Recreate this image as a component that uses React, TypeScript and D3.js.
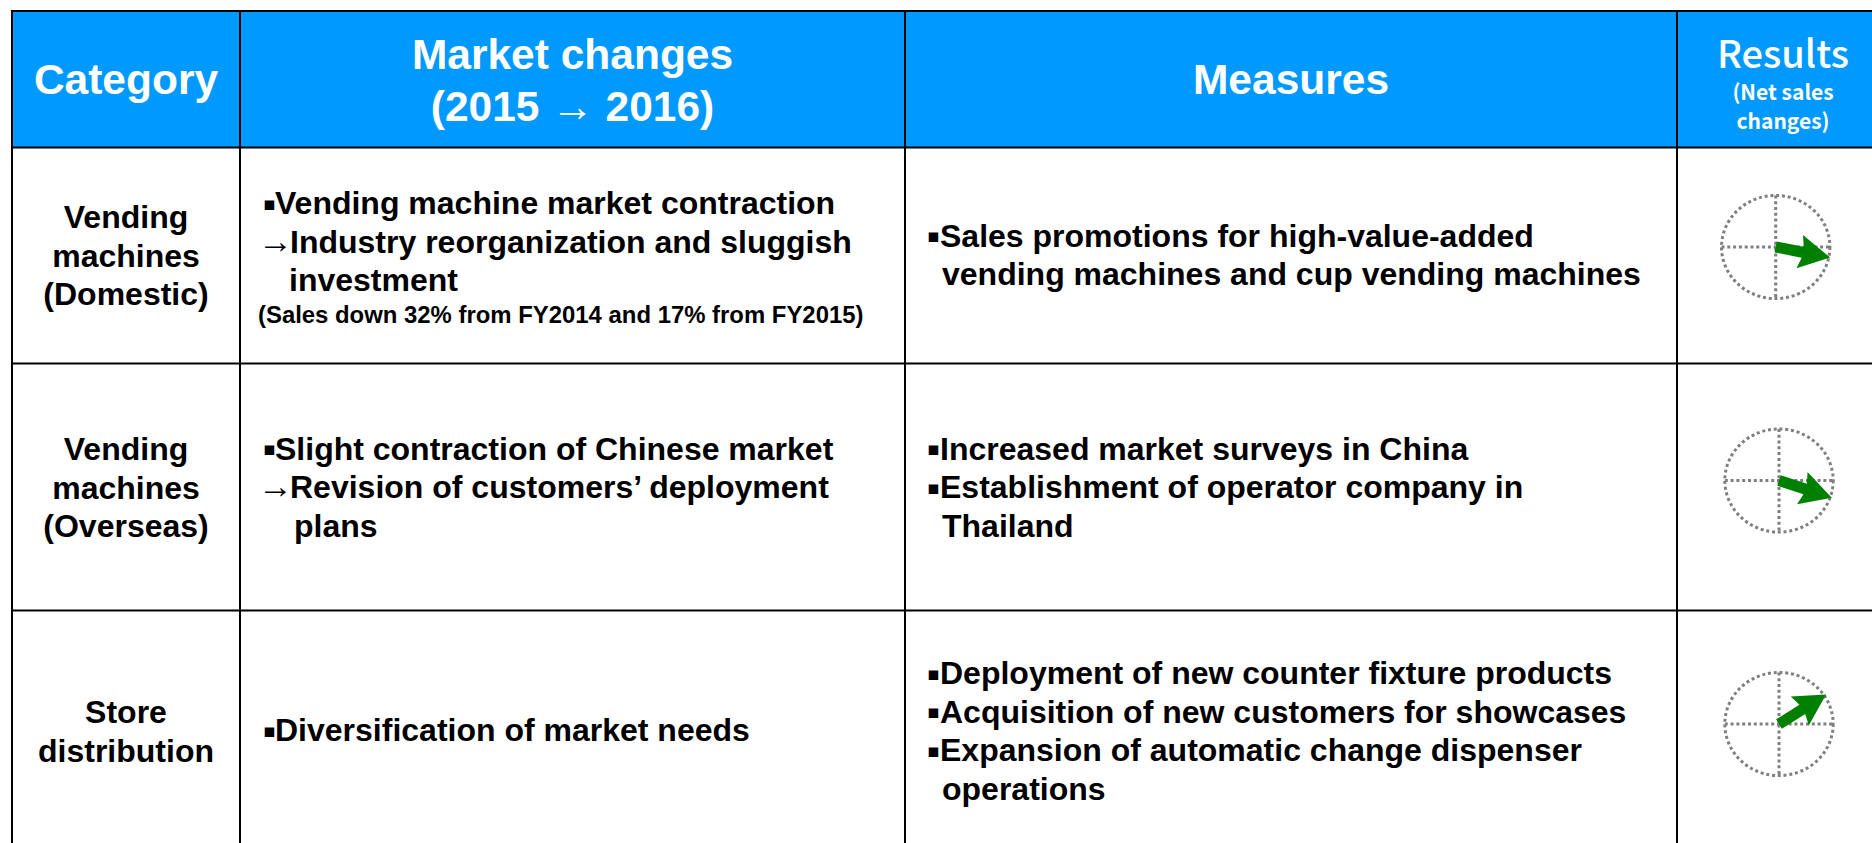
import React, { useEffect, useRef } from "react";
import * as d3 from "d3";

const headers = ["Category", "Market changes", "Measures"];
const categories = [["Vending", "machines", "(Domestic)"], ["Vending", "machines", "(Overseas)"], ["Store", "distribution"]];
const marketChanges = [
  [["▪", "Vending machine market contraction"], ["→", "Industry reorganization and sluggish"], ["", "investment"]],
  [["▪", "Slight contraction of Chinese market"], ["→", "Revision of customers’ deployment"], ["+", "plans"]],
  [["▪", "Diversification of market needs"]],
];
const marketNote = "(Sales down 32% from FY2014 and 17% from FY2015)";
const measures = [
  [["▪", "Sales promotions for high-value-added"], ["", "vending machines and cup vending machines"]],
  [["▪", "Increased market surveys in China"], ["▪", "Establishment of operator company in"], ["", "Thailand"]],
  [["▪", "Deployment of new counter fixture products"], ["▪", "Acquisition of new customers for showcases"], ["▪", "Expansion of automatic change dispenser"], ["", "operations"]],
];
const resultAngles = [11, 18, -32];

const W = 1872, H = 843;
const colEdges = [12, 240, 905, 1677, 1873];
const rowEdges = [11, 147.5, 363.5, 610.5, 844];
const SANS = "'Liberation Sans', Arial, sans-serif";
const JP = "'Noto Sans CJK JP', sans-serif";

const catY = [228, 460, 723];
const marketY = [214, 459.5, 741];
const measureY = [246.5, 459.5, 684];
const gaugeC = [[1775.7, 247], [1779, 480.5], [1779, 724]];

export default function App() {
  const ref = useRef<SVGSVGElement>(null);
  useEffect(() => {
    const svg = d3.select(ref.current);
    svg.selectAll("*").remove();

    svg.append("rect").attr("x", colEdges[0]).attr("y", rowEdges[0])
      .attr("width", W - colEdges[0]).attr("height", rowEdges[1] - rowEdges[0]).attr("fill", "#0099FF");

    const text = (x: number, y: number, s: string, size: number, opts: any = {}) =>
      svg.append("text").attr("x", x).attr("y", y).attr("font-family", opts.family || SANS)
        .attr("font-size", size).attr("font-weight", opts.weight || "bold")
        .attr("fill", opts.fill || "#000").attr("text-anchor", opts.anchor || "start").text(s);

    const mid = (i: number) => (colEdges[i] + colEdges[i + 1]) / 2;
    const hw = { fill: "#fff", anchor: "middle" };
    const hs = 42.5;
    text(mid(0), 94, headers[0], hs, hw);
    text(mid(1), 69, headers[1], hs, hw);
    const yr = text(mid(1), 121, "", hs, hw);
    yr.append("tspan").text("(2015 ");
    yr.append("tspan").attr("font-weight", "normal").text("→");
    yr.append("tspan").text(" 2016)");
    text(mid(2), 94, headers[2], hs, hw);
    text(1783, 68, "Results", 38, { fill: "#fff", anchor: "middle", family: JP, weight: 500 });
    text(1783, 100, "(Net sales", 21, { fill: "#fff", anchor: "middle", family: JP, weight: 700 });
    text(1783, 129, "changes)", 21, { fill: "#fff", anchor: "middle", family: JP, weight: 700 });

    const pitch = 38.6, size = 32;
    categories.forEach((lines, r) => lines.forEach((l, i) =>
      text(mid(0), catY[r] + i * pitch, l, size, { anchor: "middle" })));

    const block = (rows: string[][][], ys: number[], bx: number, tx: number, arrowTx: number, contX: number) =>
      rows.forEach((lines, r) => lines.forEach(([m, l], i) => {
        const y = ys[r] + i * pitch;
        if (m === "▪") text(bx, y - 4.5, m, 19, { family: "'DejaVu Sans', sans-serif", weight: "normal" });
        if (m === "→") text(bx - 5, y, m, 35, { weight: "normal" });
        const x = m === "▪" ? tx : m === "→" ? arrowTx : m === "+" ? contX + 5 : contX;
        text(x, y, l, size);
      }));
    block(marketChanges, marketY, 263, 275, 290, 289);
    text(258, 323, marketNote, 23.9);
    block(measures, measureY, 927, 940, 940, 942);

    const line = d3.line();
    resultAngles.forEach((a, r) => {
      const [cx, cy] = gaugeC[r];
      const g = svg.append("g").attr("transform", `translate(${cx},${cy})`);
      const dot = { stroke: "#7f7f7f", "stroke-width": 3, "stroke-dasharray": "3 2.8", fill: "none" };
      const rx = 54.2, ry = 51.6;
      const apply = (s: any) => Object.entries(dot).forEach(([k, v]) => s.attr(k, v));
      apply(g.append("ellipse").attr("rx", rx).attr("ry", ry));
      apply(g.append("line").attr("x1", -rx).attr("x2", rx));
      apply(g.append("line").attr("y1", -ry).attr("y2", ry));
      const L = 55.5, head = 31, hw2 = 17, sw = 5.5;
      const pts: [number, number][] = [[0, -sw], [L - head + 3, -sw], [L - head, -hw2], [L, 0], [L - head, hw2], [L - head + 3, sw], [0, sw]];
      g.append("path").attr("d", line(pts) + "Z").attr("fill", "#008000")
        .attr("transform", `rotate(${a})`);
    });

    const grid = svg.append("g").attr("stroke", "#000").attr("stroke-width", 2);
    colEdges.slice(0, 4).forEach((x) => grid.append("line").attr("x1", x).attr("x2", x).attr("y1", rowEdges[0]).attr("y2", H));
    rowEdges.slice(0, 4).forEach((y) => grid.append("line").attr("x1", colEdges[0] - 1).attr("x2", W).attr("y1", y).attr("y2", y));
  }, []);
  return <svg ref={ref} width={W} height={H} style={{ position: "absolute", left: 0, top: 0, background: "#fff" }} />;
}
